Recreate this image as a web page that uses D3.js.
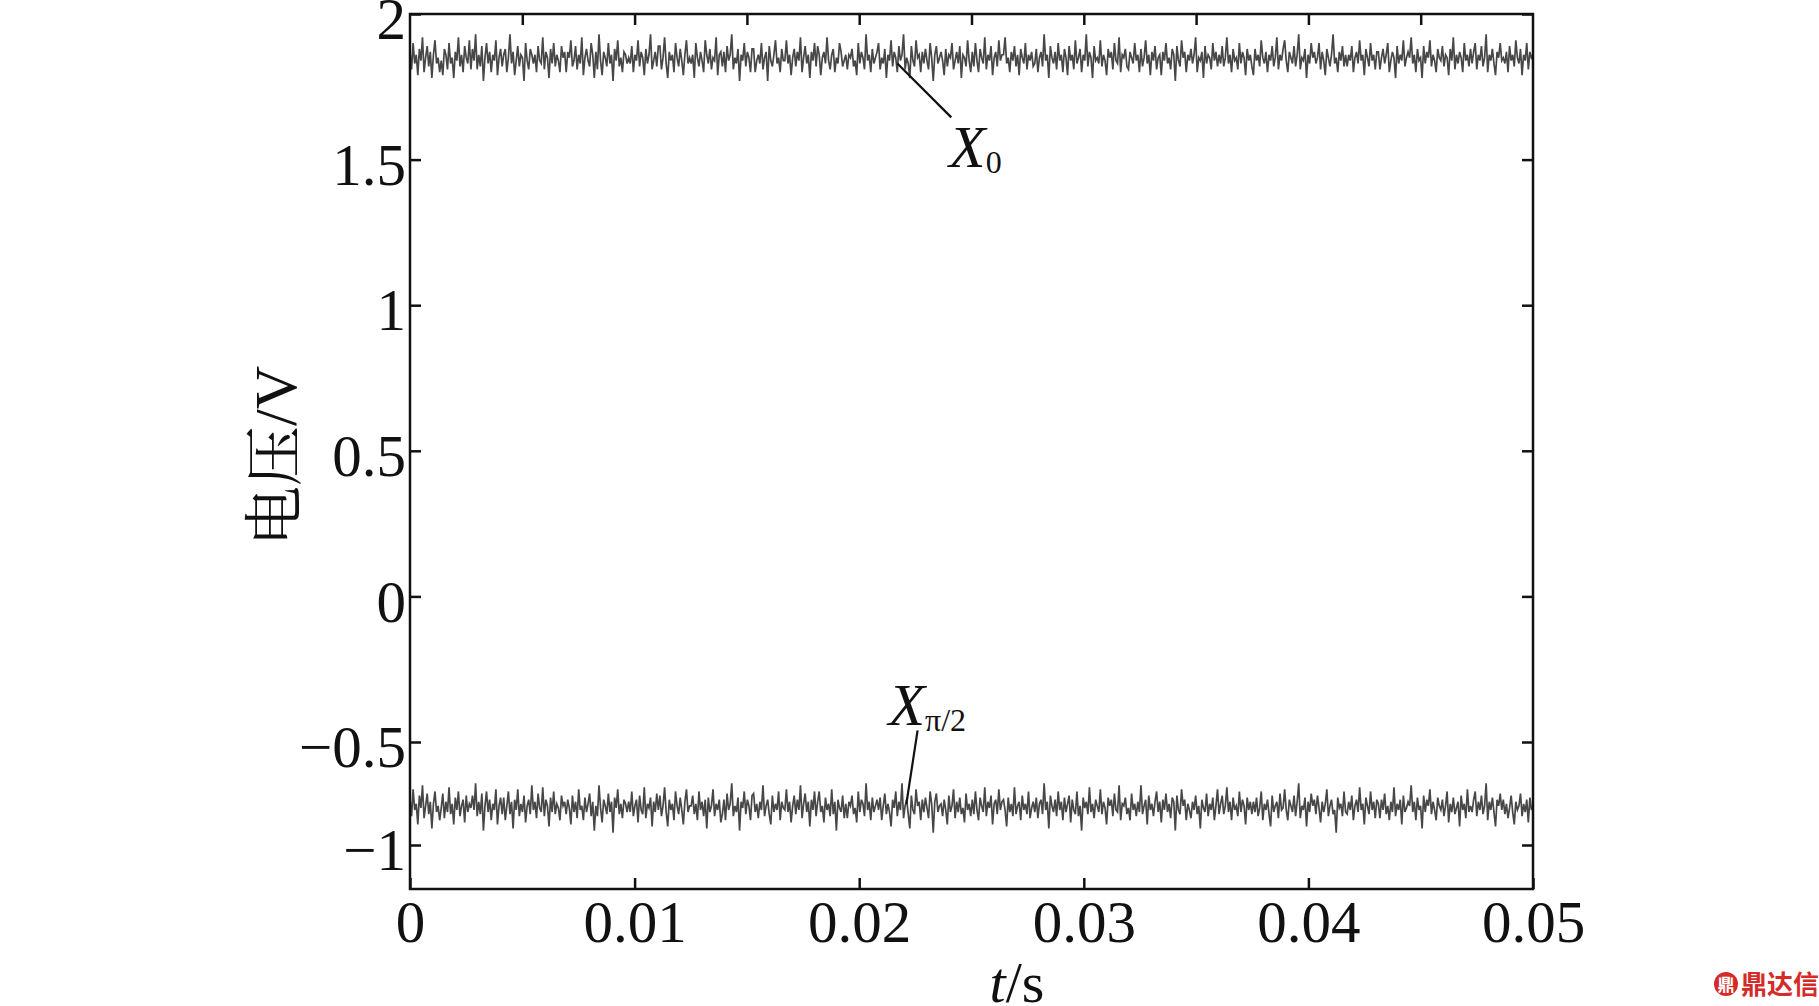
<!DOCTYPE html>
<html><head><meta charset="utf-8">
<script src="https://cdn.jsdelivr.net/npm/d3@7"></script>
<style>body{margin:0;background:#fff}svg{display:block}</style>
</head><body><svg id="c" width="1819" height="1006"></svg>
<script>
// ---- data ----
const tStart = 0, tEnd = 0.05;
const xTicksBottom = [0, 0.01, 0.02, 0.03, 0.04, 0.05];
const xTicksTop = [0.005,0.01,0.015,0.02,0.025,0.03,0.035,0.04,0.045];
const xTickLabels = ["0","0.01","0.02","0.03","0.04","0.05"];
const yTicks = [2, 1.5, 1, 0.5, 0, -0.5, -1];
const yTickLabels = ["2","1.5","1","0.5","0","\u22120.5","\u22121"];
// axis break points as drawn (the −1 tick sits closer than the others)
const yDomain = [-1.21, -1, -0.5, 2];

const X0 = [
1.87,1.81,1.90,1.83,1.86,1.79,1.88,1.84,1.92,1.80,1.85,1.89,1.82,1.87,1.78,1.86,1.91,1.83,1.85,1.80,
1.84,1.79,1.88,1.86,1.81,1.90,1.83,1.85,1.78,1.87,1.84,1.92,1.82,1.86,1.80,1.89,1.85,1.83,1.91,1.81,
1.88,1.84,1.93,1.81,1.86,1.82,1.89,1.77,1.85,1.90,1.83,1.87,1.80,1.86,1.84,1.91,1.79,1.85,1.88,1.82,
1.86,1.88,1.80,1.85,1.93,1.83,1.87,1.79,1.84,1.89,1.82,1.86,1.85,1.77,1.90,1.84,1.81,1.88,1.86,1.83,
1.86,1.80,1.89,1.84,1.83,1.92,1.81,1.87,1.85,1.78,1.88,1.83,1.90,1.82,1.86,1.84,1.80,1.89,1.85,1.87,
1.80,1.87,1.85,1.91,1.82,1.84,1.89,1.81,1.86,1.83,1.92,1.79,1.85,1.88,1.84,1.82,1.90,1.86,1.78,1.87,
1.81,1.93,1.84,1.79,1.87,1.85,1.82,1.90,1.83,1.86,1.77,1.88,1.84,1.91,1.82,1.85,1.80,1.87,1.86,1.83,
1.85,1.83,1.89,1.80,1.86,1.84,1.91,1.82,1.87,1.85,1.79,1.88,1.83,1.86,1.93,1.81,1.84,1.87,1.82,1.89,
1.89,1.81,1.85,1.92,1.83,1.78,1.87,1.84,1.86,1.80,1.90,1.85,1.82,1.88,1.84,1.79,1.86,1.91,1.83,1.85,
1.83,1.86,1.78,1.90,1.85,1.82,1.87,1.84,1.80,1.91,1.86,1.83,1.88,1.81,1.85,1.84,1.92,1.79,1.86,1.87,
1.82,1.87,1.80,1.89,1.84,1.86,1.93,1.81,1.85,1.83,1.88,1.77,1.86,1.84,1.90,1.82,1.87,1.85,1.80,1.88,
1.88,1.80,1.84,1.86,1.83,1.90,1.81,1.85,1.87,1.77,1.89,1.84,1.82,1.86,1.91,1.83,1.85,1.80,1.88,1.84,
1.84,1.91,1.83,1.86,1.79,1.85,1.88,1.82,1.87,1.84,1.92,1.80,1.85,1.89,1.83,1.86,1.78,1.87,1.84,1.90,
1.82,1.89,1.86,1.79,1.85,1.87,1.83,1.92,1.84,1.81,1.86,1.88,1.80,1.85,1.83,1.90,1.87,1.82,1.84,1.86,
1.81,1.86,1.85,1.88,1.82,1.84,1.79,1.90,1.83,1.87,1.85,1.81,1.93,1.84,1.86,1.80,1.88,1.83,1.85,1.87,
1.90,1.81,1.85,1.83,1.88,1.78,1.86,1.84,1.91,1.82,1.87,1.85,1.80,1.89,1.84,1.86,1.93,1.81,1.85,1.83,
1.78,1.89,1.84,1.82,1.91,1.85,1.86,1.80,1.87,1.83,1.88,1.84,1.81,1.90,1.85,1.77,1.86,1.89,1.83,1.85,
1.87,1.84,1.79,1.88,1.82,1.86,1.85,1.90,1.81,1.84,1.87,1.83,1.89,1.78,1.86,1.85,1.82,1.91,1.84,1.80,
1.87,1.82,1.90,1.84,1.80,1.88,1.85,1.83,1.92,1.81,1.86,1.84,1.89,1.79,1.85,1.87,1.82,1.91,1.84,1.86,
1.86,1.92,1.83,1.85,1.80,1.87,1.84,1.89,1.82,1.86,1.79,1.88,1.85,1.83,1.90,1.81,1.86,1.84,1.87,1.82,
1.83,1.88,1.80,1.85,1.87,1.82,1.93,1.84,1.86,1.78,1.89,1.85,1.83,1.87,1.81,1.90,1.84,1.86,1.80,1.88,
1.85,1.79,1.89,1.84,1.86,1.81,1.91,1.83,1.85,1.88,1.80,1.86,1.84,1.93,1.82,1.87,1.85,1.78,1.89,1.84,
1.85,1.83,1.91,1.82,1.86,1.84,1.79,1.88,1.85,1.87,1.81,1.90,1.84,1.83,1.92,1.80,1.86,1.85,1.88,1.82,
1.81,1.87,1.85,1.83,1.90,1.84,1.86,1.80,1.88,1.82,1.85,1.91,1.83,1.86,1.79,1.87,1.84,1.89,1.81,1.85,
1.86,1.79,1.87,1.84,1.90,1.83,1.85,1.81,1.88,1.86,1.77,1.89,1.84,1.82,1.91,1.85,1.87,1.80,1.86,1.84,
1.88,1.83,1.86,1.92,1.80,1.85,1.84,1.87,1.78,1.89,1.83,1.86,1.85,1.81,1.90,1.84,1.87,1.82,1.86,1.83,
1.89,1.82,1.85,1.92,1.83,1.86,1.80,1.88,1.84,1.85,1.81,1.90,1.83,1.87,1.85,1.79,1.88,1.84,1.86,1.82,
1.79,1.88,1.84,1.86,1.82,1.91,1.85,1.83,1.87,1.80,1.86,1.84,1.89,1.82,1.85,1.92,1.81,1.86,1.84,1.88,
1.91,1.84,1.80,1.87,1.85,1.83,1.89,1.82,1.86,1.93,1.81,1.85,1.84,1.88,1.78,1.86,1.83,1.90,1.85,1.87,
1.83,1.85,1.90,1.81,1.87,1.84,1.79,1.88,1.85,1.82,1.86,1.93,1.83,1.85,1.80,1.87,1.84,1.89,1.82,1.86,
1.82,1.86,1.84,1.89,1.80,1.85,1.87,1.83,1.91,1.84,1.86,1.79,1.88,1.85,1.82,1.90,1.84,1.86,1.81,1.87,
1.87,1.81,1.85,1.88,1.83,1.86,1.90,1.80,1.84,1.87,1.85,1.78,1.89,1.83,1.86,1.84,1.91,1.82,1.85,1.87,
1.85,1.92,1.83,1.86,1.80,1.88,1.84,1.85,1.78,1.89,1.83,1.87,1.85,1.91,1.82,1.86,1.84,1.80,1.88,1.85,
1.84,1.89,1.82,1.86,1.85,1.79,1.88,1.84,1.92,1.81,1.86,1.83,1.87,1.85,1.80,1.90,1.84,1.86,1.82,1.88,
1.83,1.87,1.90,1.81,1.86,1.84,1.89,1.82,1.85,1.93,1.80,1.86,1.84,1.88,1.83,1.79,1.87,1.85,1.90,1.84,
1.85,1.83,1.87,1.80,1.89,1.84,1.86,1.82,1.91,1.85,1.83,1.88,1.79,1.86,1.84,1.90,1.81,1.87,1.85,1.86];

const Xpi2 = [
-0.78,-0.86,-0.73,-0.83,-0.80,-0.90,-0.76,-0.82,-0.71,-0.87,-0.81,-0.75,-0.85,-0.79,-0.92,-0.80,-0.74,-0.84,-0.81,-0.88,
-0.82,-0.75,-0.87,-0.79,-0.84,-0.72,-0.85,-0.80,-0.90,-0.77,-0.83,-0.74,-0.86,-0.81,-0.78,-0.89,-0.76,-0.84,-0.80,-0.82,
-0.76,-0.83,-0.70,-0.86,-0.79,-0.85,-0.75,-0.93,-0.81,-0.74,-0.84,-0.78,-0.88,-0.80,-0.83,-0.73,-0.90,-0.81,-0.77,-0.85,
-0.77,-0.88,-0.81,-0.74,-0.85,-0.79,-0.92,-0.78,-0.83,-0.73,-0.86,-0.80,-0.84,-0.76,-0.89,-0.81,-0.78,-0.85,-0.71,-0.83,
-0.79,-0.87,-0.75,-0.82,-0.84,-0.72,-0.86,-0.78,-0.81,-0.91,-0.77,-0.84,-0.74,-0.85,-0.80,-0.82,-0.88,-0.76,-0.81,-0.79,
-0.85,-0.78,-0.82,-0.90,-0.76,-0.84,-0.79,-0.87,-0.73,-0.83,-0.81,-0.88,-0.77,-0.84,-0.80,-0.75,-0.86,-0.79,-0.93,-0.81,
-0.86,-0.71,-0.82,-0.89,-0.78,-0.81,-0.85,-0.75,-0.84,-0.79,-0.94,-0.77,-0.82,-0.73,-0.85,-0.80,-0.87,-0.78,-0.80,-0.84,
-0.79,-0.84,-0.74,-0.86,-0.81,-0.78,-0.89,-0.76,-0.83,-0.85,-0.72,-0.87,-0.80,-0.82,-0.77,-0.91,-0.79,-0.84,-0.75,-0.83,
-0.76,-0.86,-0.81,-0.72,-0.84,-0.91,-0.78,-0.83,-0.80,-0.88,-0.74,-0.81,-0.85,-0.77,-0.83,-0.90,-0.79,-0.73,-0.84,-0.81,
-0.81,-0.76,-0.85,-0.80,-0.88,-0.74,-0.83,-0.79,-0.86,-0.78,-0.92,-0.77,-0.84,-0.81,-0.73,-0.86,-0.80,-0.83,-0.78,-0.89,
-0.85,-0.78,-0.88,-0.75,-0.83,-0.80,-0.70,-0.86,-0.81,-0.84,-0.77,-0.93,-0.79,-0.82,-0.74,-0.85,-0.78,-0.81,-0.88,-0.76,
-0.75,-0.84,-0.80,-0.87,-0.79,-0.83,-0.71,-0.86,-0.81,-0.78,-0.85,-0.90,-0.76,-0.84,-0.80,-0.83,-0.74,-0.88,-0.79,-0.82,
-0.83,-0.73,-0.84,-0.79,-0.89,-0.81,-0.76,-0.85,-0.78,-0.83,-0.71,-0.87,-0.80,-0.75,-0.84,-0.79,-0.91,-0.78,-0.83,-0.74,
-0.86,-0.79,-0.74,-0.84,-0.81,-0.89,-0.77,-0.83,-0.80,-0.86,-0.73,-0.85,-0.79,-0.93,-0.78,-0.82,-0.84,-0.76,-0.87,-0.80,
-0.87,-0.79,-0.81,-0.76,-0.85,-0.82,-0.89,-0.74,-0.84,-0.78,-0.80,-0.86,-0.70,-0.83,-0.79,-0.88,-0.77,-0.84,-0.81,-0.78,
-0.83,-0.77,-0.88,-0.81,-0.75,-0.85,-0.80,-0.84,-0.91,-0.78,-0.82,-0.74,-0.86,-0.79,-0.83,-0.70,-0.87,-0.81,-0.78,-0.85,
-0.92,-0.76,-0.83,-0.85,-0.73,-0.81,-0.79,-0.88,-0.78,-0.84,-0.77,-0.82,-0.87,-0.74,-0.80,-0.94,-0.79,-0.75,-0.84,-0.81,
-0.80,-0.86,-0.78,-0.83,-0.90,-0.76,-0.84,-0.81,-0.73,-0.87,-0.79,-0.84,-0.77,-0.85,-0.82,-0.89,-0.75,-0.83,-0.80,-0.86,
-0.78,-0.85,-0.74,-0.83,-0.88,-0.77,-0.81,-0.84,-0.72,-0.86,-0.79,-0.82,-0.76,-0.90,-0.80,-0.78,-0.85,-0.73,-0.83,-0.79,
-0.78,-0.83,-0.91,-0.77,-0.84,-0.80,-0.86,-0.72,-0.85,-0.81,-0.79,-0.88,-0.76,-0.83,-0.80,-0.85,-0.74,-0.87,-0.82,-0.79,
-0.84,-0.77,-0.87,-0.80,-0.78,-0.85,-0.70,-0.83,-0.79,-0.92,-0.76,-0.81,-0.84,-0.78,-0.86,-0.74,-0.83,-0.79,-0.88,-0.77,
-0.84,-0.80,-0.76,-0.89,-0.78,-0.83,-0.85,-0.74,-0.86,-0.81,-0.93,-0.77,-0.82,-0.79,-0.85,-0.72,-0.84,-0.80,-0.87,-0.78,
-0.81,-0.84,-0.73,-0.85,-0.79,-0.82,-0.90,-0.77,-0.81,-0.78,-0.86,-0.75,-0.83,-0.84,-0.71,-0.88,-0.80,-0.81,-0.77,-0.85,
-0.82,-0.88,-0.75,-0.83,-0.80,-0.86,-0.79,-0.84,-0.71,-0.85,-0.81,-0.78,-0.90,-0.76,-0.83,-0.80,-0.86,-0.79,-0.74,-0.84,
-0.79,-0.89,-0.78,-0.83,-0.75,-0.84,-0.80,-0.87,-0.77,-0.79,-0.93,-0.76,-0.83,-0.85,-0.73,-0.81,-0.78,-0.88,-0.80,-0.83,
-0.87,-0.79,-0.83,-0.76,-0.85,-0.81,-0.92,-0.78,-0.82,-0.84,-0.75,-0.86,-0.80,-0.83,-0.77,-0.88,-0.81,-0.73,-0.85,-0.80,
-0.76,-0.85,-0.81,-0.72,-0.84,-0.79,-0.88,-0.77,-0.83,-0.81,-0.86,-0.74,-0.84,-0.78,-0.81,-0.90,-0.77,-0.83,-0.79,-0.85,
-0.79,-0.84,-0.77,-0.86,-0.82,-0.74,-0.88,-0.80,-0.83,-0.78,-0.85,-0.91,-0.76,-0.84,-0.81,-0.79,-0.87,-0.75,-0.83,-0.82,
-0.73,-0.83,-0.88,-0.78,-0.81,-0.84,-0.76,-0.86,-0.79,-0.70,-0.87,-0.81,-0.83,-0.77,-0.91,-0.79,-0.84,-0.75,-0.81,-0.78,
-0.85,-0.76,-0.82,-0.89,-0.79,-0.84,-0.80,-0.73,-0.86,-0.81,-0.78,-0.85,-0.83,-0.94,-0.77,-0.82,-0.80,-0.86,-0.74,-0.84,
-0.85,-0.79,-0.83,-0.76,-0.88,-0.81,-0.78,-0.84,-0.72,-0.83,-0.80,-0.90,-0.77,-0.81,-0.85,-0.74,-0.83,-0.79,-0.87,-0.78,
-0.80,-0.87,-0.78,-0.83,-0.75,-0.85,-0.81,-0.88,-0.79,-0.84,-0.72,-0.86,-0.80,-0.83,-0.78,-0.90,-0.76,-0.84,-0.82,-0.79,
-0.81,-0.71,-0.84,-0.79,-0.88,-0.77,-0.83,-0.81,-0.92,-0.76,-0.84,-0.78,-0.81,-0.73,-0.85,-0.79,-0.83,-0.88,-0.77,-0.81,
-0.83,-0.78,-0.86,-0.81,-0.74,-0.89,-0.80,-0.84,-0.77,-0.85,-0.82,-0.79,-0.91,-0.76,-0.83,-0.80,-0.87,-0.73,-0.84,-0.81,
-0.84,-0.78,-0.74,-0.86,-0.79,-0.83,-0.76,-0.85,-0.81,-0.70,-0.88,-0.79,-0.83,-0.77,-0.84,-0.91,-0.78,-0.81,-0.75,-0.83,
-0.78,-0.85,-0.80,-0.87,-0.82,-0.76,-0.84,-0.90,-0.79,-0.83,-0.81,-0.75,-0.86,-0.80,-0.84,-0.78,-0.89,-0.77,-0.83,-0.81];

// annotation anchors in data units
const annX0 = {t:0.0240, v:1.475, x1:0.0241, y1:1.645, x2:0.0217, y2:1.83};
const annXpi = {t:0.0213, v:-0.44, x1:0.0226, y1:-0.46, x2:0.0221, y2:-0.80};

// ---- layout ----
const L = 410, R = 1533, T = 14, B = 889;
const svg = d3.select("#c");
const x = d3.scaleLinear().domain([tStart, tEnd]).range([L, R]);
const y = d3.scaleLinear().domain(yDomain).range([B, 845, 742, T]);
const serif = "'Liberation Serif','Times New Roman',serif";
const cjk = "'Noto Serif CJK SC','Noto Sans CJK SC',sans-serif";

function series(vals){ const n = vals.length; return vals.map((v,i)=>[tStart + (tEnd-tStart)*i/(n-1), v]); }
const line = d3.line().x(d=>x(d[0])).y(d=>y(d[1]));

const g = svg.append("g");
[X0, Xpi2].forEach(s=>{
  g.append("path").datum(series(s)).attr("d", line)
   .attr("fill","none").attr("stroke","#474747").attr("stroke-width",1.7).attr("stroke-linejoin","miter");
});

// frame
svg.append("rect").attr("x",L).attr("y",T).attr("width",R-L).attr("height",B-T)
  .attr("fill","none").attr("stroke","#111").attr("stroke-width",2.5);

// axes
const tickLen = 11;
const axB = d3.axisBottom(x).tickValues(xTicksBottom).tickSize(-tickLen).tickFormat((d,i)=>xTickLabels[i]).tickPadding(11);
const gB = svg.append("g").attr("transform",`translate(0,${B})`).call(axB);
const axT = d3.axisTop(x).tickValues(xTicksTop).tickSize(-tickLen).tickFormat("");
const gT = svg.append("g").attr("transform",`translate(0,${T})`).call(axT);
const axL = d3.axisLeft(y).tickValues(yTicks).tickSize(-tickLen).tickFormat((d,i)=>yTickLabels[i]).tickPadding(4);
const gL = svg.append("g").attr("transform",`translate(${L},0)`).call(axL);
const axR = d3.axisRight(y).tickValues(yTicks).tickSize(-tickLen).tickFormat("");
const gR = svg.append("g").attr("transform",`translate(${R},0)`).call(axR);
[gB,gT,gL,gR].forEach(a=>{
  a.select(".domain").remove();
  a.selectAll(".tick line").attr("stroke","#111").attr("stroke-width",2.5);
  a.selectAll("text").attr("font-family",serif).attr("font-size",59).attr("fill","#111");
});
gB.selectAll("text").attr("dy","0.71em");
gL.selectAll("text").attr("dy","0.42em");

// axis titles
svg.append("text").attr("x",1017).attr("y",1002).attr("text-anchor","middle")
  .attr("font-family",serif).attr("font-size",58).attr("fill","#111")
  .html('<tspan font-style="italic">t</tspan>/s');
svg.append("text").attr("transform","translate(296,456) rotate(-90)").attr("text-anchor","middle")
  .attr("font-size",60).attr("fill","#111")
  .html(`<tspan font-family="${cjk}">电压</tspan><tspan font-family="${serif}">/V</tspan>`);

// annotations
function annot(a, sub){
  svg.append("line").attr("x1",x(a.x1)).attr("y1",y(a.y1)).attr("x2",x(a.x2)).attr("y2",y(a.y2))
    .attr("stroke","#111").attr("stroke-width",2.2);
  const t = svg.append("text").attr("x",x(a.t)).attr("y",y(a.v)).attr("font-family",serif).attr("fill","#111");
  t.append("tspan").attr("font-style","italic").attr("font-size",60).text("X");
  t.append("tspan").attr("font-size",32).attr("dy",6).text(sub);
}
annot(annX0, "0");
annot(annXpi, "\u03c0/2");

// watermark
const wm = svg.append("g").attr("transform","translate(1714,972)");
wm.append("circle").attr("cx",12).attr("cy",12).attr("r",12).attr("fill","#d42a2a");
wm.append("text").attr("x",12).attr("y",19).attr("text-anchor","middle").attr("font-size",17).attr("font-weight","bold").attr("fill","#fff").attr("font-family","'Noto Sans CJK SC',sans-serif").text("鼎");
wm.append("text").attr("x",27).attr("y",22).attr("font-size",26).attr("font-weight","bold").attr("fill","#d42a2a").attr("font-family","'Noto Sans CJK SC',sans-serif").text("鼎达信");
</script></body></html>
